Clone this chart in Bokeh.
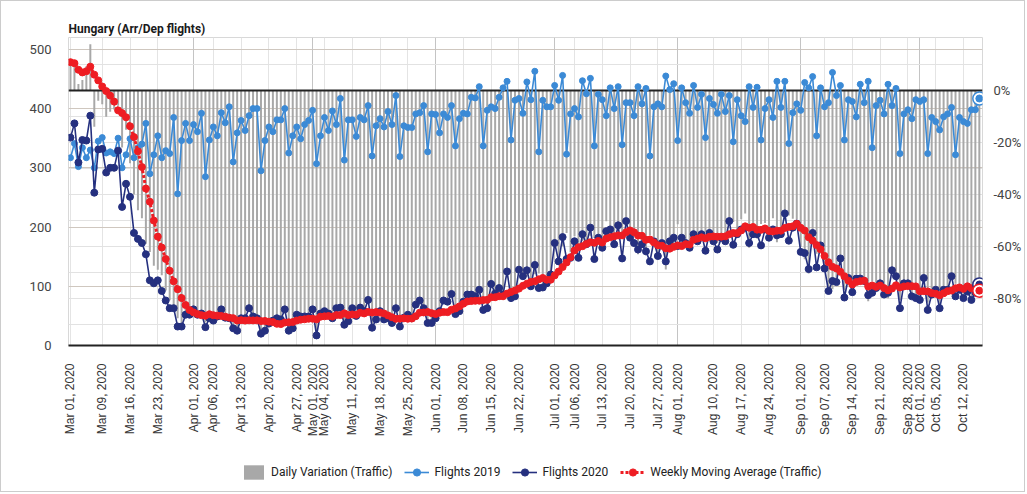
import math
import numpy as np
import pandas as pd
from bokeh.plotting import figure
from bokeh.layouts import column
from bokeh.models import (Range1d, LinearAxis, FixedTicker, PrintfTickFormatter,
                          DatetimeTickFormatter, Grid, Legend, LegendItem, ColumnDataSource)
from bokeh.embed import file_html
from bokeh.resources import INLINE

# ---------------- data ----------------
start_date = "2020-03-01"

flights_2019 = [
    317, 341, 302, 334, 317, 330, 300,
    345, 351, 325, 327, 324, 350, 300,
    322, 349, 317, 334, 340, 375, 290,
    322, 354, 317, 329, 324, 385, 256,
    346, 375, 346, 373, 361, 392, 285,
    347, 369, 354, 393, 376, 403, 310,
    359, 380, 363, 388, 400, 400, 295,
    346, 369, 361, 381, 381, 400, 325,
    354, 369, 349, 373, 380, 397, 307,
    354, 385, 363, 396, 373, 417, 313,
    381, 381, 353, 385, 381, 405, 320,
    371, 383, 369, 395, 373, 422, 319,
    371, 368, 368, 391, 393, 405, 327,
    391, 390, 359, 391, 385, 405, 337,
    383, 392, 391, 419, 418, 437, 337,
    397, 403, 400, 419, 435, 446, 347,
    414, 417, 392, 445, 415, 463, 327,
    414, 403, 403, 439, 414, 456, 323,
    391, 400, 386, 447, 425, 451, 337,
    424, 415, 388, 435, 400, 437, 339,
    410, 410, 388, 437, 408, 434, 320,
    403, 408, 403, 455, 432, 442, 346,
    435, 410, 392, 439, 402, 424, 351,
    417, 407, 392, 424, 395, 422, 344,
    415, 388, 378, 437, 402, 436, 347,
    400, 415, 385, 446, 402, 446, 341,
    393, 408, 397, 444, 435, 454, 354,
    435, 403, 410, 461, 422, 439, 347,
    415, 412, 386, 441, 410, 446, 334,
    405, 414, 391, 441, 405, 434, 324,
    391, 398, 383, 415, 412, 415, 324,
    385, 378, 364, 386, 391, 402, 322,
    385, 378, 375, 398, 398, 417,
]

flights_2020 = [
    351, 375, 309, 347, 346, 388, 258,
    331, 332, 292, 300, 300, 329, 234,
    273, 251, 190, 180, 173, 154, 110,
    105, 110, 92, 76, 63, 63, 32,
    32, 52, 52, 61, 52, 54, 31,
    46, 42, 49, 61, 47, 46, 29,
    25, 46, 46, 63, 49, 46, 20,
    25, 37, 42, 46, 44, 61, 25,
    29, 52, 49, 49, 49, 61, 17,
    54, 58, 54, 46, 63, 64, 35,
    41, 63, 50, 64, 58, 77, 30,
    44, 58, 44, 46, 38, 63, 32,
    47, 52, 46, 69, 76, 63, 38,
    38, 46, 58, 76, 74, 87, 53,
    58, 74, 86, 86, 83, 94, 60,
    63, 104, 88, 97, 86, 125, 80,
    83, 128, 117, 127, 100, 136, 97,
    98, 105, 120, 173, 142, 183, 146,
    148, 176, 148, 188, 171, 199, 146,
    182, 165, 193, 196, 171, 203, 147,
    210, 182, 173, 162, 171, 159, 142,
    176, 151, 173, 142, 176, 182, 168,
    182, 173, 165, 188, 176, 188, 160,
    190, 176, 162, 182, 176, 210, 170,
    188, 196, 199, 173, 188, 188, 169,
    196, 182, 196, 186, 188, 223, 177,
    199, 206, 158, 156, 129, 190, 132,
    169, 130, 92, 109, 107, 147, 81,
    114, 90, 113, 113, 109, 85, 89,
    97, 105, 86, 89, 127, 117, 63,
    105, 105, 83, 80, 77, 114, 60,
    86, 94, 63, 94, 94, 117, 83,
    94, 80, 91, 77, 89, 103,
]

tick_labels = [
    "Mar 01, 2020", "Mar 09, 2020", "Mar 16, 2020", "Mar 23, 2020",
    "Apr 01, 2020", "Apr 06, 2020", "Apr 13, 2020", "Apr 20, 2020", "Apr 27, 2020",
    "May 01, 2020", "May 04, 2020", "May 11, 2020", "May 18, 2020", "May 25, 2020",
    "Jun 01, 2020", "Jun 08, 2020", "Jun 15, 2020", "Jun 22, 2020",
    "Jul 01, 2020", "Jul 06, 2020", "Jul 13, 2020", "Jul 20, 2020", "Jul 27, 2020",
    "Aug 01, 2020", "Aug 10, 2020", "Aug 17, 2020", "Aug 24, 2020",
    "Sep 01, 2020", "Sep 07, 2020", "Sep 14, 2020", "Sep 21, 2020", "Sep 28, 2020",
    "Oct 01, 2020", "Oct 05, 2020", "Oct 12, 2020",
]
month_starts = ["2020-04-01", "2020-05-01", "2020-06-01", "2020-07-01",
                "2020-08-01", "2020-09-01", "2020-10-01"]
left_ticks = [0, 100, 200, 300, 400, 500]
pct_ticks = [0, -20, -40, -60, -80]

# ---------------- derived series ----------------
dates = pd.date_range(start_date, periods=len(flights_2019), freq="D")
f19 = np.array(flights_2019, dtype=float)
f20 = np.array(flights_2020, dtype=float)
daily_var = (f20 / f19 - 1.0) * 100.0
s19 = pd.Series(f19).rolling(7, min_periods=1).sum()
s20 = pd.Series(f20).rolling(7, min_periods=1).sum()
weekly_ma = ((s20 / s19 - 1.0) * 100.0).values

src = ColumnDataSource(dict(date=dates, f19=f19, f20=f20, var=daily_var, ma=weekly_ma))

DAY = pd.Timedelta(days=1)
x_range = Range1d(dates[0] - 0.5 * DAY, dates[-1] + 0.8 * DAY)

FONT = "Roboto"
C19 = "#3b8ad6"
C20 = "#25307f"
CMA = "#ee1d23"
W = 1023

p = figure(width=W, height=446, x_axis_type="datetime",
           x_range=x_range, y_range=Range1d(0, 520),
           output_backend="svg", toolbar_location=None,
           min_border_left=67, min_border_right=36, min_border_top=36,
           min_border_bottom=102,
           background_fill_color="white", border_fill_color="white")
p.extra_y_ranges = {"pct": Range1d(-97.95, 20.2)}
p.outline_line_color = "#d8d8d8"

# title
p.title.text = "Hungary (Arr/Dep flights)"
p.title.text_font = FONT
p.title.text_font_size = "12px"
p.title.text_font_style = "bold"
p.title.text_color = "#1a1a1a"
p.title.align = "left"
p.title.standoff = 3

# grids
tick_ms = [pd.to_datetime(t, format="%b %d, %Y").value / 1e6 for t in tick_labels]
p.xgrid.ticker = FixedTicker(ticks=tick_ms)
p.xgrid.grid_line_color = "#e4e4e4"
month_grid = Grid(dimension=0, ticker=FixedTicker(ticks=[pd.Timestamp(m).value / 1e6 for m in month_starts]),
                  grid_line_color="#c4c4c4")
p.add_layout(month_grid)
p.ygrid.ticker = FixedTicker(ticks=left_ticks[1:])
p.ygrid.grid_line_color = "#cfc7bf"
pct_grid = Grid(dimension=1, y_range_name="pct",
                ticker=FixedTicker(ticks=[10, -10, -20, -30, -40, -50, -60, -70, -80, -90]),
                grid_line_color="#e2e2e2")
p.add_layout(pct_grid)


def draw(fig, visible=True):
    b = fig.vbar(x="date", top="var", bottom=0, width=0.5 * 86400000, source=src,
                 y_range_name="pct", fill_color="#a8a8a8", line_color=None, visible=visible)
    if visible:
        fig.hspan(y=[pct_ticks[0]], y_range_name="pct", line_color="#222222", line_width=2)
    a1 = fig.line("date", "f19", source=src, line_color=C19, line_width=1.6, visible=visible)
    a2 = fig.scatter("date", "f19", source=src, size=6, fill_color=C19, line_color=C19, visible=visible)
    b1 = fig.line("date", "f20", source=src, line_color=C20, line_width=1.6, visible=visible)
    b2 = fig.scatter("date", "f20", source=src, size=7, fill_color=C20, line_color=C20, visible=visible)
    c1 = fig.line("date", "ma", source=src, y_range_name="pct", line_color=CMA,
                  line_width=3, line_dash="3 2", visible=visible)
    c2 = fig.scatter("date", "ma", source=src, y_range_name="pct", size=7,
                     fill_color=CMA, line_color=CMA, visible=visible)
    return b, (a1, a2), (b1, b2), (c1, c2)


draw(p)

# last-value highlight markers
last = ColumnDataSource(dict(date=[dates[-1]], f19=[f19[-1]], f20=[f20[-1]], ma=[weekly_ma[-1]]))
for col, colr, rng in (("f19", C19, "default"), ("f20", C20, "default"), ("ma", CMA, "pct")):
    p.scatter("date", col, source=last, y_range_name=rng, size=13,
              fill_color="white", line_color=colr, line_width=1.5)
    p.scatter("date", col, source=last, y_range_name=rng, size=7,
              fill_color=colr, line_color=colr)

# axes
xa = p.xaxis[0]
xa.ticker = FixedTicker(ticks=tick_ms)
xa.formatter = DatetimeTickFormatter(days="%b %d, %Y", months="%b %d, %Y",
                                     years="%b %d, %Y", hours="%b %d, %Y")
xa.major_label_orientation = math.pi / 2
xa.major_label_text_font = "Liberation Sans"
xa.major_label_text_font_size = "12px"
xa.major_label_text_color = "#333333"
xa.major_label_standoff = 12
xa.axis_line_color = "#222222"
xa.axis_line_width = 2
xa.major_tick_line_color = None
xa.minor_tick_line_color = None

ya = p.yaxis[0]
ya.ticker = FixedTicker(ticks=left_ticks)
ya.axis_line_color = None
ya.major_tick_line_color = None
ya.minor_tick_line_color = None
ya.major_label_text_font = FONT
ya.major_label_text_font_size = "13px"
ya.major_label_text_color = "#444444"
ya.major_label_standoff = 11

ra = LinearAxis(y_range_name="pct", ticker=FixedTicker(ticks=pct_ticks),
                formatter=PrintfTickFormatter(format="%d%%"))
ra.axis_line_color = None
ra.major_tick_line_color = None
ra.minor_tick_line_color = None
ra.major_label_text_font = FONT
ra.major_label_text_font_size = "13px"
ra.major_label_text_color = "#444444"
ra.major_label_standoff = 5
p.add_layout(ra, "right")

# legend strip (its own small figure, renderers hidden, same data)
leg = figure(width=W, height=44, x_range=p.x_range, y_range=p.y_range,
             x_axis_type="datetime", output_backend="svg", toolbar_location=None,
             x_axis_location=None, y_axis_location=None, min_border=0,
             outline_line_color=None, background_fill_color="white",
             border_fill_color="white")
leg.extra_y_ranges = {"pct": p.extra_y_ranges["pct"]}
leg.xgrid.visible = False
leg.ygrid.visible = False
lb, l19, l20, lma = draw(leg, visible=False)

legend = Legend(items=[
    LegendItem(label="Daily Variation (Traffic)", renderers=[lb]),
    LegendItem(label="Flights 2019", renderers=list(l19)),
    LegendItem(label="Flights 2020", renderers=list(l20)),
    LegendItem(label="Weekly Moving Average (Traffic)", renderers=list(lma)),
], orientation="horizontal", location=(173, 10))
legend.label_text_font = FONT
legend.label_text_font_size = "12px"
legend.label_text_color = "#222222"
legend.glyph_width = 25
legend.glyph_height = 18
legend.spacing = 12
legend.padding = 2
legend.margin = 0
legend.border_line_color = None
legend.background_fill_alpha = 0
leg.add_layout(legend)

layout = column(p, leg, spacing=0, styles={"border": "1px solid #cccccc"})

open("out.html", "w").write(file_html(layout, INLINE))
